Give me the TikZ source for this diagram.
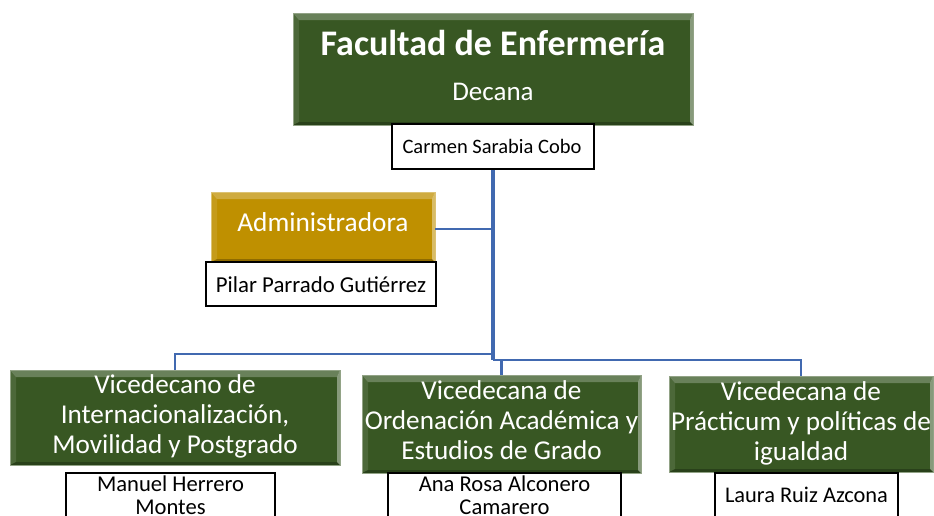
\documentclass[tikz,border=0pt]{standalone}
\usepackage{fontspec}
\setmainfont{Carlito}
\usetikzlibrary{calc}
\definecolor{dgreen}{HTML}{385723}
\definecolor{gold}{HTML}{BF9000}
\definecolor{conn}{HTML}{4169B0}
\tikzset{
  bevel/.style={path picture={
    \coordinate (bl) at (path picture bounding box.south west);
    \coordinate (tr) at (path picture bounding box.north east);
    \coordinate (ibl) at ($(bl)+(6pt,3pt)$);
    \coordinate (itr) at ($(tr)+(-3pt,-7pt)$);
    \fill[white,opacity=0.25] (bl|-tr) -- (tr) -- (itr) -- (ibl|-itr) -- cycle;
    \fill[white,opacity=0.10] (bl) -- (bl|-tr) -- (ibl|-itr) -- (ibl) -- cycle;
    \fill[white,opacity=0.40] (tr) -- (tr|-bl) -- (itr|-ibl) -- (itr) -- cycle;
    \fill[black,opacity=0.25] (bl) -- (ibl) -- (itr|-ibl) -- (tr|-bl) -- cycle;
  }},
  grn/.style={bevel, fill=dgreen, draw=dgreen!55!white, line width=0.8pt, inner sep=0pt},
  gld/.style={bevel, fill=gold, draw=gold!55!white, line width=0.8pt, inner sep=0pt},
  namebox/.style={draw=black, fill=white, line width=1.6pt, inner sep=0pt},
  wtxt/.style={text=white, align=center, inner sep=0pt},
  btxt/.style={text=black, align=center, inner sep=0pt},
  link/.style={draw=conn, line width=2.4pt},
  trunk/.style={draw=conn, line width=3.6pt},
}
\begin{document}
\begin{tikzpicture}[x=1pt,y=-1pt]
\useasboundingbox (0,0) rectangle (934,515);
% boxes
\node[grn, minimum width=400pt, minimum height=112pt] (fac) at (493,69) {};
\node[wtxt, anchor=base, font=\fontsize{36}{40}\selectfont\bfseries] (fact) at (493,55.5) {Facultad de Enfermería};
\node[wtxt, anchor=base, font=\fontsize{27}{30}\selectfont] (dec) at (493,100.5) {Decana};
\node[namebox, minimum width=202pt, minimum height=45pt] (carmen) at (493,146.5) {};
\node[btxt, anchor=base, font=\fontsize{20.5}{24}\selectfont] (carment) at (492,153.5) {Carmen Sarabia Cobo};

\node[gld, minimum width=224pt, minimum height=70pt] (adm) at (323,227) {};
\node[wtxt, anchor=base, font=\fontsize{27.3}{30}\selectfont] (admt) at (323,231) {Administradora};
\node[namebox, minimum width=230pt, minimum height=44pt] (pilar) at (321,284) {};
\node[btxt, anchor=base, font=\fontsize{22.8}{24}\selectfont] (pilart) at (321,292) {Pilar Parrado Gutiérrez};

\node[grn, minimum width=330pt, minimum height=95pt] (vl) at (175,417.5) {};
\node[wtxt, font=\fontsize{27.2}{30}\selectfont] (vlt) at (175,416) {Vicedecano de\\Internacionalización,\\Movilidad y Postgrado};
\node[grn, minimum width=279pt, minimum height=98pt] (vm) at (501.5,424) {};
\node[wtxt, font=\fontsize{27.2}{30}\selectfont] (vmt) at (501.5,420) {Vicedecana de\\Ordenación Académica y\\Estudios de Grado};
\node[grn, minimum width=264pt, minimum height=96pt] (vr) at (801,424) {};
\node[wtxt, font=\fontsize{27.2}{30}\selectfont] (vrt) at (801,423) {Vicedecana de\\Prácticum y políticas de\\igualdad};

\node[namebox, minimum width=209pt, minimum height=46pt] (manuel) at (170.5,496) {};
\node[btxt, font=\fontsize{22.6}{23}\selectfont] (manuelt) at (170.5,495) {Manuel Herrero\\Montes};
\node[namebox, minimum width=233pt, minimum height=46pt] (ana) at (504.5,496) {};
\node[btxt, font=\fontsize{22.6}{23}\selectfont] (anat) at (504.5,495) {Ana Rosa Alconero\\Camarero};
\node[namebox, minimum width=183pt, minimum height=46pt] (laura) at (806.5,496) {};
\node[btxt, anchor=base, font=\fontsize{22.4}{24}\selectfont] (laurat) at (806.5,502.5) {Laura Ruiz Azcona};

% connectors
\coordinate (yl) at (0,354);
\coordinate (yr) at (0,360);
\coordinate (ya) at (0,229);
\draw[link] (carmen.south |- yl) -| (vl.north);
\draw[link] (carmen.south |- yr) -| (vm.north);
\draw[link] (carmen.south |- yr) -| (vr.north);
\draw[link] (adm.east |- ya) -- (carmen.south |- ya);
\draw[trunk] (carmen.south) -- (carmen.south |- yr);
\end{tikzpicture}
\end{document}
